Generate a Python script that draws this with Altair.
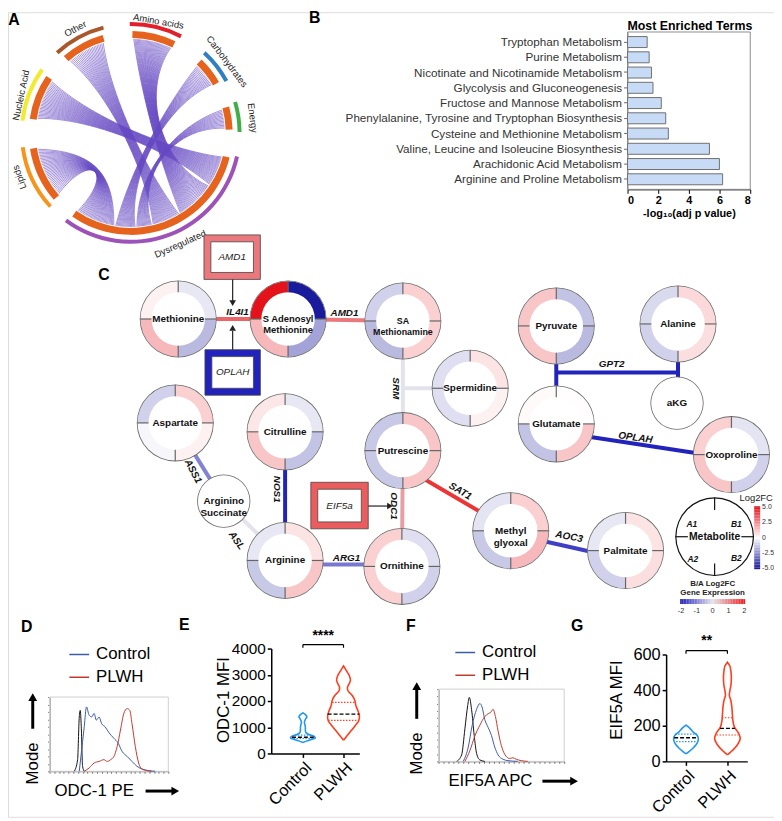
import numpy as np
import pandas as pd
import altair as alt

W, H = 774, 813
FONT = "Liberation Sans"
PI = np.pi


def px(v):
    return v - 8


def sx():
    return alt.Scale(domain=[8, 8 + W], range=[0, W], nice=False, zero=False)


def sy():
    return alt.Scale(domain=[8, 8 + H], range=[0, H], nice=False, zero=False)


def X(f="x"):
    return alt.X(f"{f}:Q", scale=sx(), axis=None)


def Y(f="y"):
    return alt.Y(f"{f}:Q", scale=sy(), axis=None)


# ------------------------------------------------------------------ Panel A data
A_groups = ["Amino acids", "Carbohydrates", "Energy", "Dysregulated", "Lipids", "Nucleic Acid", "Other"]
A_start = [1, 44, 75, 104, 229, 278, 319]
A_end = [26, 60, 88, 215, 261, 304, 344]
A_colors = ["#e2202c", "#2f7fc1", "#3fae49", "#9d52b8", "#f7941d", "#f2ea2a", "#a9582c"]
A_label_pos = [14, 53.4, 83, 156, 248.3, 289, 332]
A_label_r = [116, 121, 124, 123, 121, 117, 119]
A_label_rot = [10, 53, 83, 336, 250, 282, 332]
A_link_groups = ["Nucleic Acid", "Amino acids", "Other", "Energy", "Carbohydrates", "Lipids"]
A_link_counts = [28, 34, 24, 14, 18, 32]
A_link_t0 = [104.5, 124, 149, 167, 177, 190]
A_link_t1 = [123.5, 148.5, 166.5, 176.5, 189.5, 214.5]
A_cx, A_cy, A_r = 132, 130, 95

# ------------------------------------------------------------------ Panel B data
B_terms = ["Tryptophan Metabolism", "Purine Metabolism", "Nicotinate and Nicotinamide Metabolism",
           "Glycolysis and Gluconeogenesis", "Fructose and Mannose Metabolism",
           "Phenylalanine, Tyrosine and Tryptophan Biosynthesis", "Cysteine and Methionine Metabolism",
           "Valine, Leucine and Isoleucine Biosynthesis", "Arachidonic Acid Metabolism",
           "Arginine and Proline Metabolism"]
B_vals = [1.28, 1.41, 1.56, 1.66, 2.2, 2.49, 2.66, 5.34, 5.99, 6.2]

# ------------------------------------------------------------------ Panel C data
C_nodes = ["Methionine", "S Adenosyl\nMethionine", "SA\nMethionamine", "Aspartate", "Citrulline",
           "Putrescine", "Spermidine", "Pyruvate", "Alanine", "Glutamate", "Oxoproline",
           "Methyl\nglyoxal", "Palmitate", "Arginine", "Ornithine"]
C_node_x = [180, 291, 407, 177, 288, 407, 475, 562, 685, 562, 739, 516, 632, 288, 406]
C_node_y = [318, 318, 320, 423, 432, 451, 388, 325, 323, 424, 455, 532, 552, 562, 568]
C_A1 = [0.3, 5.0, -1.0, -1.0, 0.5, -1.2, -0.7, 1.2, -0.8, 0.1, 1.0, -0.6, -0.5, -0.5, 1.0]
C_B1 = [-0.5, -5.0, 1.0, 1.0, -0.5, 1.2, 0.6, -1.3, 0.8, 0.05, -0.6, 1.0, 0.6, 0.6, -0.7]
C_A2 = [1.5, 1.5, -1.5, -0.2, 1.2, -1.2, -0.7, 1.2, -1.0, -1.3, 1.2, -1.2, -1.0, -1.2, 1.0]
C_B2 = [-1.5, -2.0, 1.0, 0.3, -1.3, 1.2, 0.3, -1.5, 0.7, 1.2, -1.0, 1.5, 0.7, 1.2, -1.0]
C_plain = ["aKG", "Arginino\nSuccinate"]
C_plain_x = [684, 226]
C_plain_y = [403, 502]

C_gene_names = ["IL4I1", "AMD1", "SRM", "GPT2", "OPLAH", "SAT1", "AOC3", "ASS1", "ASL", "NOS1", "ARG1", "ODC1", "EIF5a"]
C_gene_fc = [1.3, 1.1, 0.0, -2.0, -2.0, 1.8, -1.7, -1.0, 0.0, -2.0, -1.1, 0.7, 1.4]

C_edge_gene = ["IL4I1", "AMD1", "SRM", "SRM", "GPT2", "GPT2", "GPT2", "OPLAH", "SAT1", "AOC3", "ASS1", "ASL", "NOS1", "ARG1", "ODC1"]
C_edge_x1 = [180, 291, 407, 407, 562, 562, 685, 562, 407, 516, 177, 226, 288, 288, 406]
C_edge_y1 = [318, 318, 320, 388, 325, 372, 323, 432, 467, 535, 423, 502, 432, 566, 568]
C_edge_x2 = [291, 407, 407, 475, 562, 685, 685, 739, 516, 632, 226, 288, 288, 406, 407]
C_edge_y2 = [318, 320, 451, 388, 424, 372, 403, 459, 531, 561, 502, 562, 562, 566, 451]

C_elab = ["IL4I1", "AMD1", "SRM", "GPT2", "OPLAH", "SAT1", "AOC3", "ASS1", "ASL", "NOS1", "ARG1", "ODC1"]
C_elab_x = [240, 348, 400, 618, 642, 465, 575, 195, 239, 280, 350, 398]
C_elab_y = [311, 312, 388, 364, 438, 492, 538, 472, 542, 490, 560, 507]
C_elab_rot = [0, 0, 90, 0, 8, 31, 11, 62, 55, 90, 0, 90]

C_box_gene = ["AMD1", "OPLAH", "EIF5a"]
C_box_x1 = [206, 207, 314]
C_box_x2 = [263, 263, 372]
C_box_y1 = [233, 349, 483]
C_box_y2 = [278, 395, 530]

# ------------------------------------------------------------------ Panel D / F data (histograms, % of mode)
D_iso_x = [20.8, 23.6, 25.0, 25.8, 26.7, 27.8, 29.2]
D_iso_y = [0, 15.6, 73, 82, 60, 6.7, 0]
D_ctl_x = [25, 27.8, 29.2, 31.1, 33.3, 35.6, 37.5, 39.4, 41.7, 43.9, 46.7, 50, 54.2, 57.8, 61.1, 65.3, 69.4, 73.6, 77.8, 83.3, 88.9]
D_ctl_y = [0, 40, 60, 86.7, 75.6, 73.3, 78, 68.9, 73, 64, 60, 52, 44.4, 37.8, 26.7, 20, 13.3, 6.7, 3.1, 0.9, 0]
D_plw_x = [29.2, 33.3, 37.5, 41.7, 45.8, 48.6, 51.4, 54.2, 56.9, 59.7, 62.5, 65.3, 67.5, 69.4, 72.2, 75, 77.8, 81.9, 86.1]
D_plw_y = [0, 4.4, 11.1, 13.3, 15.6, 13.3, 15.6, 20, 33.3, 55.6, 77.8, 84.4, 82.2, 64.4, 33.3, 11.1, 3.1, 0.9, 0]

F_iso_x = [14.5, 18.4, 21.0, 23.2, 24.5, 26.3, 28.4, 30.3, 32.9, 36.8]
F_iso_y = [0, 9, 45, 77, 88.6, 72, 36, 11, 2, 0]
F_ctl_x = [19.7, 23.7, 26.8, 30.3, 32.9, 34.7, 36.8, 39.5, 42.1, 44.7, 47.4, 51.3, 55.3, 63]
F_ctl_y = [0, 20, 50, 72, 80, 75, 58, 47, 36, 20, 9, 3, 1, 0]
F_plw_x = [21, 25, 28.9, 32.9, 36.8, 39.5, 41.6, 43.4, 45.3, 47.4, 50, 52.6, 56.6, 59.2, 61.8, 65.8, 71]
F_plw_y = [0, 15, 35, 50, 62, 66, 68, 72, 62, 42, 22, 10, 4, 5, 3, 1, 0]

# ------------------------------------------------------------------ Panel E / G data (violins)
E_ctl_v = [420, 480, 540, 600, 660, 720, 800, 900, 1000, 1100, 1200, 1300, 1400, 1480, 1550]
E_ctl_hw = [0, 4, 9, 12.5, 11, 6, 3, 2.5, 2.5, 2, 1.5, 2.5, 4, 2.5, 0]
E_plw_v = [503, 692, 881, 1069, 1258, 1447, 1635, 1824, 2013, 2201, 2390, 2516, 2642, 2793, 2956, 3120, 3246, 3334]
E_plw_hw = [0, 4, 8, 12, 15.5, 16, 14.5, 12.5, 11.5, 9, 4.5, 4, 5.5, 7, 6, 3.5, 1.5, 0]
E_med = [620, 1500]
E_med_hw = [11, 16]
E_q = [[570, 700], [1260, 1950]]
E_q_hw = [[12.5, 8], [15.5, 11.5]]

G_ctl_v = [42, 55, 74, 92, 111, 129, 148, 166, 185, 203]
G_ctl_hw = [0, 3, 7, 10, 12, 12.5, 11, 7, 4, 0]
G_plw_v = [37, 61, 92, 129, 161, 194, 231, 268, 305, 342, 369, 397, 425, 471, 508, 535, 557]
G_plw_hw = [0, 5, 10, 13, 11, 7, 5.5, 5, 4.5, 3.5, 2, 2.5, 3.5, 4, 3.5, 2.5, 0]
G_med = [133, 185]
G_med_hw = [12, 7.5]
G_q = [[153, 111], [245, 148]]
G_q_hw = [[11, 10], [5.5, 11]]

# ------------------------------------------------------------------ colour scales
meta_scale = alt.Scale(domain=[-5, 0, 5], range=["#1a1a9c", "#ffffff", "#e4121b"], interpolate="rgb")
gene_scale = alt.Scale(domain=[-2, 0, 2], range=["#2222bd", "#e4e2ea", "#ee2222"], interpolate="rgb")
gene_fc = dict(zip(C_gene_names, C_gene_fc))

layers = []


def text(df, **kw):
    enc = dict(x=X(), y=Y(), text="t:N")
    if "a" in df.columns:
        enc["angle"] = alt.Angle("a:Q", scale=None)
    if "fs" in df.columns:
        enc["size"] = alt.Size("fs:Q", scale=None)
    base = dict(font=FONT, align="center", baseline="middle", color="black", lineBreak="\n")
    base.update(kw)
    return alt.Chart(df).mark_text(**base).encode(**enc)


# ================================================================== Panel A
arc_df = pd.DataFrame({"g": A_groups, "t0": np.radians(A_start), "t1": np.radians(A_end),
                       "o0": np.radians(np.array(A_start) - 1.5), "o1": np.radians(np.array(A_end) + 1.5),
                       "col": A_colors, "x": A_cx, "y": A_cy})


def pol(a, r):
    t = np.radians(a)
    return np.array([A_cx + r * np.sin(t), A_cy - r * np.cos(t)])


rows = []
cid = 0
for g, n, t0, t1 in zip(A_link_groups, A_link_counts, A_link_t0, A_link_t1):
    i = A_groups.index(g)
    s0, s1 = A_start[i] + 0.5, A_end[i] - 0.5
    sm, tm = (s0 + s1) / 2, (t0 + t1) / 2
    for k in range(n):
        a = s0 + (s1 - s0) * (k + 0.5) / n
        b = t1 - (t1 - t0) * (k + 0.5) / n
        P0, P3 = pol(a, A_r), pol(b, A_r)
        C1, C2 = pol(sm, A_r * 0.45), pol(tm, A_r * 0.45)
        for j, t in enumerate(np.linspace(0, 1, 28)):
            p = (1 - t) ** 3 * P0 + 3 * (1 - t) ** 2 * t * C1 + 3 * (1 - t) * t ** 2 * C2 + t ** 3 * P3
            rows.append({"id": cid, "o": j, "x": p[0], "y": p[1]})
        cid += 1
chord_df = pd.DataFrame(rows)
layers.append(alt.Chart(chord_df).mark_line(strokeWidth=0.7, color="#6548c2", opacity=0.85).encode(
    x=X(), y=Y(), detail="id:N", order="o:Q"))
layers.append(alt.Chart(arc_df).mark_arc(radius=103, radius2=96, color="#e6631e").encode(
    x=X(), y=Y(), theta=alt.Theta("t0:Q", scale=None), theta2=alt.Theta2("t1:Q")))
layers.append(alt.Chart(arc_df).mark_arc(radius=112, radius2=108).encode(
    x=X(), y=Y(), theta=alt.Theta("o0:Q", scale=None), theta2=alt.Theta2("o1:Q"),
    color=alt.Color("col:N", scale=None)))
lab = pd.DataFrame({"t": A_groups, "a": A_label_rot,
                    "x": [A_cx + r * np.sin(np.radians(p)) for p, r in zip(A_label_pos, A_label_r)],
                    "y": [A_cy - r * np.cos(np.radians(p)) for p, r in zip(A_label_pos, A_label_r)]})
layers.append(text(lab, fontSize=9.5, color="#222"))

# ================================================================== Panel B
bx = alt.Scale(domain=[0, 8], range=[px(634), px(758)], nice=False, zero=True)
by = alt.Scale(domain=B_terms, range=[px(28), px(187)], paddingInner=0.28, paddingOuter=0.3)
b_df = pd.DataFrame({"term": B_terms, "v": B_vals})
layers.append(alt.Chart(pd.DataFrame({"x": [634], "x2": [758], "y": [28], "y2": [187]})).mark_rect(
    fillOpacity=0, stroke="#8c8c8c", strokeWidth=1).encode(x=X(), x2="x2:Q", y=Y(), y2="y2:Q"))
layers.append(alt.Chart(b_df).mark_bar(fill="#c7dbf6", stroke="#6f6f6f", strokeWidth=1).encode(
    x=alt.X("v:Q", scale=bx, axis=alt.Axis(orient="bottom", offset=px(187) - H, values=[0, 2, 4, 6, 8],
                                            title="-log₁₀(adj p value)", titleFontWeight="bold",
                                            titleFontSize=11, titleFont=FONT, titlePadding=2,
                                            labelFontWeight="bold", labelFontSize=11, labelFont=FONT,
                                            labelColor="black", tickSize=4, tickColor="black",
                                            domainColor="black", grid=False, labelPadding=1)),
    y=alt.Y("term:N", scale=by, sort=None, axis=alt.Axis(orient="left", offset=-px(634), title=None,
                                                          labelFontSize=11.8, labelFont=FONT,
                                                          labelColor="#333", tickSize=4, tickColor="#666",
                                                          domainColor="#8c8c8c", labelPadding=2,
                                                          labelLimit=400, grid=False))))
layers.append(text(pd.DataFrame({"t": ["Most Enriched Terms"], "x": [697], "y": [22]}),
                   fontSize=12.5, fontWeight="bold"))

# ================================================================== Panel C
edge_df = pd.DataFrame({"g": C_edge_gene, "x": C_edge_x1, "y": C_edge_y1, "x2": C_edge_x2, "y2": C_edge_y2})
edge_df["v"] = edge_df["g"].map(gene_fc)
layers.append(alt.Chart(edge_df).mark_rule(strokeWidth=4).encode(
    x=X(), y=Y(), x2="x2:Q", y2="y2:Q", color=alt.Color("v:Q", scale=gene_scale, legend=None)))

node_df = pd.DataFrame({"t": C_nodes, "x": C_node_x, "y": C_node_y})
plain_df = pd.DataFrame({"t": C_plain, "x": C_plain_x, "y": C_plain_y})
legend_df = pd.DataFrame({"t": ["Metabolite"], "x": [722], "y": [538]})

layers.append(alt.Chart(node_df).mark_arc(radius=38.5, theta=0, theta2=2 * PI, color="white").encode(x=X(), y=Y()))
layers.append(alt.Chart(plain_df).mark_arc(radius=26.5, theta=0, theta2=2 * PI, color="white").encode(x=X(), y=Y()))
layers.append(alt.Chart(legend_df).mark_arc(radius=39.5, theta=0, theta2=2 * PI, color="white").encode(x=X(), y=Y()))

q_rows = []
for i in range(len(C_nodes)):
    for (t0, t1), vals in [((1.5 * PI, 2 * PI), C_A1), ((0, 0.5 * PI), C_B1),
                           ((PI, 1.5 * PI), C_A2), ((0.5 * PI, PI), C_B2)]:
        q_rows.append({"x": C_node_x[i], "y": C_node_y[i], "t0": t0, "t1": t1, "v": vals[i]})
layers.append(alt.Chart(pd.DataFrame(q_rows)).mark_arc(radius=38.2, radius2=27).encode(
    x=X(), y=Y(), theta=alt.Theta("t0:Q", scale=None), theta2=alt.Theta2("t1:Q"),
    color=alt.Color("v:Q", scale=meta_scale, legend=None)))
layers.append(alt.Chart(node_df).mark_arc(radius=38.9, radius2=38.1, theta=0, theta2=2 * PI, color="#6a6a6a").encode(x=X(), y=Y()))
layers.append(alt.Chart(plain_df).mark_arc(radius=26.9, radius2=26.1, theta=0, theta2=2 * PI, color="#6a6a6a").encode(x=X(), y=Y()))
layers.append(alt.Chart(legend_df).mark_arc(radius=39.8, radius2=38.6, theta=0, theta2=2 * PI, color="#111").encode(x=X(), y=Y()))

tk = []
for xs, ys, r0, r1, col in [(C_node_x, C_node_y, 27, 38.5, "#666"), ([722], [538], 27, 39.5, "#111")]:
    for x0, y0 in zip(xs, ys):
        for ang in [0, 90, 180, 270]:
            t = np.radians(ang)
            tk.append({"x": x0 + r0 * np.sin(t), "y": y0 - r0 * np.cos(t),
                       "x2": x0 + r1 * np.sin(t), "y2": y0 - r1 * np.cos(t), "c": col})
layers.append(alt.Chart(pd.DataFrame(tk)).mark_rule(strokeWidth=1.2).encode(
    x=X(), y=Y(), x2="x2:Q", y2="y2:Q", color=alt.Color("c:N", scale=None)))

# gene boxes
box_df = pd.DataFrame({"g": C_box_gene, "x": C_box_x1, "x2": C_box_x2, "y": C_box_y1, "y2": C_box_y2})
box_df["v"] = box_df["g"].map(gene_fc)
inner_df = box_df.copy()
inner_df["x"] += 7
inner_df["x2"] -= 7
inner_df["y"] += 7
inner_df["y2"] -= 7
layers.append(alt.Chart(box_df).mark_rect(stroke="#444", strokeWidth=0.8).encode(
    x=X(), x2="x2:Q", y=Y(), y2="y2:Q", color=alt.Color("v:Q", scale=gene_scale, legend=None)))
layers.append(alt.Chart(inner_df).mark_rect(fill="white", stroke="#444", strokeWidth=0.8).encode(
    x=X(), x2="x2:Q", y=Y(), y2="y2:Q"))
bl = pd.DataFrame({"t": C_box_gene, "x": [(a + b) / 2 for a, b in zip(C_box_x1, C_box_x2)],
                   "y": [(a + b) / 2 for a, b in zip(C_box_y1, C_box_y2)]})
layers.append(text(bl, fontSize=10, fontStyle="italic", color="#222"))

# arrows from boxes
arr = pd.DataFrame({"x": [235, 235, 372], "y": [278, 349, 507], "x2": [235, 235, 392], "y2": [300, 330, 507]})
layers.append(alt.Chart(arr).mark_rule(strokeWidth=1.2, color="#222").encode(x=X(), y=Y(), x2="x2:Q", y2="y2:Q"))
heads = pd.DataFrame({"x": [235, 235, 394], "y": [302, 327, 507], "s": ["triangle-down", "triangle-up", "triangle-right"]})
layers.append(alt.Chart(heads).mark_point(filled=True, size=45, color="#222", opacity=1).encode(
    x=X(), y=Y(), shape=alt.Shape("s:N", scale=None)))

# labels
layers.append(text(node_df.assign(fs=[10, 9.5, 9, 10, 10, 10, 10, 10, 10, 10, 10, 10, 10, 10, 10]),
                   fontWeight="bold", color="#111"))
layers.append(text(plain_df, fontSize=10, fontWeight="bold", color="#111"))
layers.append(text(legend_df, fontSize=10.5, fontWeight="bold", color="#111"))
layers.append(text(pd.DataFrame({"t": ["A1", "B1", "A2", "B2"], "x": [699, 744, 700, 744], "y": [525, 525, 561, 560]}),
                   fontSize=8.5, fontWeight="bold", fontStyle="italic", color="#111"))
layers.append(text(pd.DataFrame({"t": C_elab, "x": C_elab_x, "y": C_elab_y, "a": C_elab_rot}),
                   fontSize=10, fontWeight="bold", fontStyle="italic", color="#111"))

# Log2FC colour bar
cb_y = alt.Scale(domain=[-5, 5], range=[px(570), px(508)], nice=False, zero=False)
vv = np.linspace(-5, 5, 41)
cb = pd.DataFrame({"v": vv, "lo": vv - 0.13, "hi": vv + 0.13, "x": 762, "x2": 768})
layers.append(alt.Chart(cb).mark_rect().encode(
    x=X(), x2="x2:Q", y=alt.Y("lo:Q", scale=cb_y, axis=None), y2="hi:Q",
    color=alt.Color("v:Q", scale=meta_scale, legend=None)))
cbl = pd.DataFrame({"t": ["5.0", "2.5", "0", "-2.5", "-5.0"], "v": [5, 2.5, 0, -2.5, -5], "x": 770})
layers.append(alt.Chart(cbl).mark_text(font=FONT, fontSize=7, align="left", baseline="middle", color="#333").encode(
    x=X(), y=alt.Y("v:Q", scale=cb_y, axis=None), text="t:N"))
layers.append(text(pd.DataFrame({"t": ["Log2FC"], "x": [764], "y": [499]}), fontSize=9.5, color="#222"))

# gene colour bar
gb_x = alt.Scale(domain=[-2, 2], range=[px(688), px(752)], nice=False, zero=False)
gv = np.linspace(-2, 2, 41)
gb = pd.DataFrame({"v": gv, "lo": gv - 0.052, "hi": gv + 0.052, "y": 601, "y2": 606})
layers.append(alt.Chart(gb).mark_rect().encode(
    x=alt.X("lo:Q", scale=gb_x, axis=None), x2="hi:Q", y=Y(), y2="y2:Q",
    color=alt.Color("v:Q", scale=gene_scale, legend=None)))
gbl = pd.DataFrame({"t": ["-2", "-1", "0", "1", "2"], "v": [-2, -1, 0, 1, 2], "y": 613})
layers.append(alt.Chart(gbl).mark_text(font=FONT, fontSize=7.5, baseline="middle", color="#333").encode(
    x=alt.X("v:Q", scale=gb_x, axis=None), y=Y(), text="t:N"))
layers.append(text(pd.DataFrame({"t": ["B/A Log2FC", "Gene Expression"], "x": [720, 720], "y": [586, 595]}),
                   fontSize=8, fontWeight="bold", color="#222"))


# ================================================================== Panels D / F (histograms)
def histo(xl, xr, yb, yt, curves, legend_x, legend_y, mode_x, mode_y, arrow_y, xlabel, xlab_x, xlab_y, xarr):
    hx = alt.Scale(domain=[0, 100], range=[px(xl), px(xr)], nice=False, zero=False)
    hy = alt.Scale(domain=[0, 100], range=[px(yb), px(yt)], nice=False, zero=False)
    out = []
    out.append(alt.Chart(pd.DataFrame({"x": [xl], "x2": [xr], "y": [yt], "y2": [yb]})).mark_rect(
        fillOpacity=0, stroke="#cfcfcf", strokeWidth=1).encode(x=X(), x2="x2:Q", y=Y(), y2="y2:Q"))
    rows = []
    for name, xs, ys in curves:
        for i, (a, b) in enumerate(zip(xs, ys)):
            rows.append({"s": name, "o": i, "hx": a, "hy": b})
    hdf = pd.DataFrame(rows)
    out.append(alt.Chart(hdf).mark_line(strokeWidth=1, interpolate="monotone").encode(
        x=alt.X("hx:Q", scale=hx, axis=alt.Axis(orient="bottom", offset=px(yb) - H, values=list(range(0, 101, 4)),
                                                  labels=False, title=None, tickSize=2, tickColor="#777",
                                                  domainColor="#777", grid=False)),
        y=alt.Y("hy:Q", scale=hy, axis=alt.Axis(orient="left", offset=-px(xl), values=list(range(0, 101, 10)),
                                                  labels=False, title=None, tickSize=2, tickColor="#777",
                                                  domainColor="#777", grid=False)),
        color=alt.Color("s:N", scale=alt.Scale(domain=["Isotype", "Control", "PLWH"],
                                                range=["#111111", "#3b5ba8", "#c0392f"]), legend=None),
        detail="s:N", order="o:Q"))
    leg = pd.DataFrame({"x": [legend_x, legend_x], "x2": [legend_x + 20, legend_x + 20],
                        "y": legend_y, "y2": legend_y, "c": ["#3b5ba8", "#c0392f"]})
    out.append(alt.Chart(leg).mark_rule(strokeWidth=1.5).encode(
        x=X(), x2="x2:Q", y=Y(), y2="y2:Q", color=alt.Color("c:N", scale=None)))
    out.append(text(pd.DataFrame({"t": ["Control", "PLWH"], "x": [legend_x + 27] * 2, "y": legend_y}),
                    fontSize=17, align="left"))
    out.append(text(pd.DataFrame({"t": ["Mode"], "x": [mode_x], "y": [mode_y], "a": [270]}), fontSize=17))
    out.append(text(pd.DataFrame({"t": [xlabel], "x": [xlab_x], "y": [xlab_y]}), fontSize=17, align="left"))
    ar = pd.DataFrame({"x": [mode_x, xarr[0]], "y": [arrow_y[0], xlab_y], "x2": [mode_x, xarr[1]],
                       "y2": [arrow_y[1], xlab_y]})
    out.append(alt.Chart(ar).mark_rule(strokeWidth=3, color="black").encode(x=X(), y=Y(), x2="x2:Q", y2="y2:Q"))
    hd = pd.DataFrame({"x": [mode_x, xarr[1] + 2], "y": [arrow_y[1] - 2, xlab_y], "s": ["triangle-up", "triangle-right"]})
    out.append(alt.Chart(hd).mark_point(filled=True, size=80, color="black", opacity=1).encode(
        x=X(), y=Y(), shape=alt.Shape("s:N", scale=None)))
    return out


layers += histo(50, 170, 775, 700,
                [("Isotype", D_iso_x, D_iso_y), ("Control", D_ctl_x, D_ctl_y), ("PLWH", D_plw_x, D_plw_y)],
                70, [657, 680], 33, 767, (732, 702), "ODC-1 PE", 55, 795, (147, 175))
layers += histo(443, 570, 765, 692,
                [("Isotype", F_iso_x, F_iso_y), ("Control", F_ctl_x, F_ctl_y), ("PLWH", F_plw_x, F_plw_y)],
                460, [655, 678], 421, 757, (722, 691), "EIF5A APC", 453, 785, (548, 578))


# ================================================================== Panels E / G (violins)
def violin(xl, xr, dom, yb, yt, ymax, ticks, tfs, ppu, ctl, plw, med, med_hw, q, q_hw, brack, stars, stars_y,
           ytitle, ytx, yty):
    vx = alt.Scale(domain=dom, range=[px(xl), px(xr)], nice=False, zero=False)
    vy = alt.Scale(domain=[0, ymax], range=[px(yb), px(yt)], nice=False, zero=False)
    cols = alt.Scale(domain=["Control", "PLWH"], range=["#2196f3", "#ff3d1f"])
    rows = []
    for g, c, (vs, hws) in [("Control", 1, ctl), ("PLWH", 2, plw)]:
        path = [(v, c + hw / ppu) for v, hw in zip(vs, hws)]
        path += [(v, c - hw / ppu) for v, hw in reversed(list(zip(vs, hws)))]
        for k, (v, xx) in enumerate(path):
            rows.append({"g": g, "o": k, "v": v, "vx": xx})
    vdf = pd.DataFrame(rows)
    out = []
    out.append(alt.Chart(vdf).mark_line(strokeWidth=1.6, interpolate="catmull-rom").encode(
        y=alt.Y("v:Q", scale=vy, axis=alt.Axis(orient="left", offset=-px(xl), values=ticks, title=None, format="d",
                                                labelFontSize=tfs, labelFont=FONT, labelColor="black",
                                                tickSize=4, tickWidth=1.5, tickColor="black",
                                                domainWidth=1.5, domainColor="black", labelPadding=2,
                                                grid=False)),
        x=alt.X("vx:Q", scale=vx, axis=alt.Axis(orient="bottom", offset=px(yb) - H, values=[1, 2], title=None,
                                                 labelExpr="datum.value == 1 ? 'Control' : 'PLWH'",
                                                 labelAngle=-45, labelAlign="right", labelBaseline="top",
                                                 labelFontSize=16.5, labelFont=FONT, labelColor="black",
                                                 tickSize=4, tickWidth=1.5, tickColor="black",
                                                 domainWidth=1.5, domainColor="black", labelPadding=2,
                                                 grid=False)),
        color=alt.Color("g:N", scale=cols, legend=None),
        detail="g:N", order="o:Q"))
    mrows, qrows = [], []
    for c, g in [(1, "Control"), (2, "PLWH")]:
        mrows.append({"v": med[c - 1], "lo": c - med_hw[c - 1] / ppu, "hi": c + med_hw[c - 1] / ppu})
        for qv, qh in zip(q[c - 1], q_hw[c - 1]):
            qrows.append({"g": g, "v": qv, "lo": c - qh / ppu, "hi": c + qh / ppu})
    out.append(alt.Chart(pd.DataFrame(qrows)).mark_rule(strokeWidth=1.2, strokeDash=[1.5, 1.5]).encode(
        x=alt.X("lo:Q", scale=vx, axis=None), x2="hi:Q", y=alt.Y("v:Q", scale=vy, axis=None),
        color=alt.Color("g:N", scale=cols, legend=None)))
    out.append(alt.Chart(pd.DataFrame(mrows)).mark_rule(strokeWidth=1.4, strokeDash=[4, 2], color="black").encode(
        x=alt.X("lo:Q", scale=vx, axis=None), x2="hi:Q", y=alt.Y("v:Q", scale=vy, axis=None)))
    bdf = pd.DataFrame({"a": [1, 1, 2], "b": [2, 1, 2], "c": [brack[0]] * 3, "d": [brack[0], brack[1], brack[1]]})
    out.append(alt.Chart(bdf).mark_rule(strokeWidth=1.2, color="black").encode(
        x=alt.X("a:Q", scale=vx, axis=None), x2="b:Q", y=alt.Y("c:Q", scale=vy, axis=None), y2="d:Q"))
    out.append(alt.Chart(pd.DataFrame({"t": [stars], "a": [1.5], "c": [stars_y]})).mark_text(
        font=FONT, fontSize=14, fontWeight="bold", baseline="middle", color="black").encode(
        x=alt.X("a:Q", scale=vx, axis=None), y=alt.Y("c:Q", scale=vy, axis=None), text="t:N"))
    out.append(text(pd.DataFrame({"t": [ytitle], "x": [ytx], "y": [yty], "a": [270]}), fontSize=17))
    return out


layers += violin(274, 363, [0.22, 2.39], 757, 651, 4000, [0, 1000, 2000, 3000, 4000], 15.5, 41,
                 (E_ctl_v, E_ctl_hw), (E_plw_v, E_plw_hw), E_med, E_med_hw, E_q, E_q_hw,
                 (4150, 4030), "****", 4470, "ODC-1 MFI", 226, 703)
layers += violin(673, 755, [0.52, 2.48], 765, 657, 600, [0, 200, 400, 600], 16.5, 42,
                 (G_ctl_v, G_ctl_hw), (G_plw_v, G_plw_hw), G_med, G_med_hw, G_q, G_q_hw,
                 (622, 604), "**", 676, "EIF5A  MFI", 623, 703)

# ================================================================== panel letters
letters = pd.DataFrame({"t": ["A", "B", "C", "D", "E", "F", "G"],
                        "x": [14, 318, 105, 27, 186, 415, 583],
                        "y": [16, 14, 274, 629, 627, 628, 628]})
layers.append(text(letters, fontSize=16, fontWeight="bold"))

chart = alt.layer(*layers).resolve_scale(
    x="independent", y="independent", color="independent", stroke="independent"
).properties(width=W, height=H, autosize="none", padding=0).configure_view(stroke=None).configure(font=FONT)

chart.save("out.html", embed_options={"renderer": "svg", "actions": False})
